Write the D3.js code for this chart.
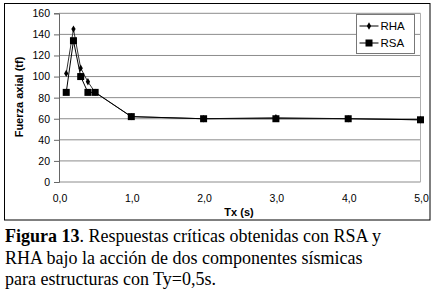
<!DOCTYPE html>
<html>
<head>
<meta charset="utf-8">
<script src="https://cdn.jsdelivr.net/npm/d3@7"></script>
<style>
  body { margin: 0; background: #fff; }
  svg { display: block; }
</style>
</head>
<body>
<div id="chart"></div>
<script>
// values
const periods = [0.1, 0.2, 0.3, 0.4, 0.5, 1.0, 2.0, 3.0, 4.0, 5.0]
const rhaValues = [103, 145, 108, 95, 85, 62, 60, 61, 60, 59]
const rsaValues = [85, 134, 100, 85, 85, 62, 60, 60, 60, 59]
const xTicks = [0, 1, 2, 3, 4, 5]
const yTicks = [0, 20, 40, 60, 80, 100, 120, 140, 160]
const seriesNames = ['RHA', 'RSA']
const captionLines = [
  [{ t: 'Figura 13', b: true }, { t: '. Respuestas críticas obtenidas con RSA y' }],
  [{ t: 'RHA bajo la acción de dos componentes sísmicas' }],
  [{ t: 'para estructuras con Ty=0,5s.' }],
]

const W = 434, H = 296
const plot = { left: 59, right: 420.5, top: 13.3, bottom: 182 }

const svg = d3.select('#chart').append('svg')
  .attr('width', W).attr('height', H)

// outer frame of the chart
svg.append('rect')
  .attr('x', 4.5).attr('y', 3.5)
  .attr('width', 425.5).attr('height', 216.5)
  .attr('fill', 'none').attr('stroke', '#000').attr('stroke-width', 1)

const x = d3.scaleLinear().domain([0, 5]).range([plot.left, plot.right])
const y = d3.scaleLinear().domain([0, 160]).range([plot.bottom, plot.top])

// horizontal gridlines
svg.append('g')
  .selectAll('line')
  .data(yTicks)
  .join('line')
  .attr('x1', plot.left).attr('x2', plot.right)
  .attr('y1', (d) => y(d)).attr('y2', (d) => y(d))
  .attr('stroke', '#8c8c8c').attr('stroke-width', 1)

// right edge of plot area
svg.append('line')
  .attr('x1', plot.right).attr('x2', plot.right)
  .attr('y1', y(160)).attr('y2', y(0))
  .attr('stroke', '#b0b0b0').attr('stroke-width', 1)

// y axis
const yAxis = svg.append('g')
  .attr('transform', `translate(${plot.left},0)`)
  .call(d3.axisLeft(y).tickValues(yTicks).tickSize(5).tickPadding(4))
yAxis.select('.domain').attr('stroke', '#666')
yAxis.selectAll('.tick line').attr('stroke', '#666')
yAxis.selectAll('text')
  .attr('font-family', 'Liberation Sans, Arial, sans-serif')
  .attr('font-size', 10.5).attr('fill', '#000')

// x axis labels only (no tick marks in the original)
const fmt = (d) => d.toFixed(1).replace('.', ',')
svg.append('g')
  .selectAll('text')
  .data(xTicks)
  .join('text')
  .attr('x', (d) => x(d) + 1)
  .attr('y', 202)
  .attr('text-anchor', 'middle')
  .attr('font-family', 'Liberation Sans, Arial, sans-serif')
  .attr('font-size', 10.5)
  .text(fmt)

// axis titles
svg.append('text')
  .attr('x', 239).attr('y', 216)
  .attr('text-anchor', 'middle')
  .attr('font-family', 'Liberation Sans, Arial, sans-serif')
  .attr('font-size', 11).attr('font-weight', 'bold')
  .text('Tx (s)')

svg.append('text')
  .attr('transform', `translate(23,97) rotate(-90)`)
  .attr('text-anchor', 'middle')
  .attr('font-family', 'Liberation Sans, Arial, sans-serif')
  .attr('font-size', 11).attr('font-weight', 'bold')
  .text('Fuerza axial (tf)')

const line = d3.line()
  .x((d) => x(d[0]))
  .y((d) => y(d[1]))

const rha = periods.map((p, i) => [p, rhaValues[i]])
const rsa = periods.map((p, i) => [p, rsaValues[i]])

const diamond = d3.symbol().type(d3.symbolDiamond).size(16)

function drawRSA(g, pts) {
  g.append('path').datum(pts).attr('d', line)
    .attr('fill', 'none').attr('stroke', '#000').attr('stroke-width', 1)
  g.selectAll('rect.m').data(pts).join('rect')
    .attr('class', 'm')
    .attr('x', (d) => x(d[0]) - 3.5).attr('y', (d) => y(d[1]) - 3.5)
    .attr('width', 7).attr('height', 7)
    .attr('fill', '#000')
}

function drawRHA(g, pts) {
  g.append('path').datum(pts).attr('d', line)
    .attr('fill', 'none').attr('stroke', '#333').attr('stroke-width', 1)
  g.selectAll('path.m').data(pts).join('path')
    .attr('class', 'm')
    .attr('transform', (d) => `translate(${x(d[0])},${y(d[1])})`)
    .attr('d', diamond)
    .attr('fill', '#000')
}

drawRHA(svg.append('g'), rha)
drawRSA(svg.append('g'), rsa)

// legend
const lg = svg.append('g').attr('transform', 'translate(356.5,14.5)')
lg.append('rect')
  .attr('width', 58).attr('height', 39)
  .attr('fill', '#fff').attr('stroke', '#777').attr('stroke-width', 1)
seriesNames.forEach((name, i) => {
  const cy = 11.5 + i * 17
  lg.append('line')
    .attr('x1', 3).attr('x2', 22).attr('y1', cy).attr('y2', cy)
    .attr('stroke', '#000').attr('stroke-width', 1)
  if (name === 'RHA') {
    lg.append('path').attr('transform', `translate(12.5,${cy})`)
      .attr('d', diamond).attr('fill', '#000')
  } else {
    lg.append('rect').attr('x', 9).attr('y', cy - 3.5)
      .attr('width', 7).attr('height', 7).attr('fill', '#000')
  }
  lg.append('text')
    .attr('x', 24).attr('y', cy + 4)
    .attr('font-family', 'Liberation Sans, Arial, sans-serif')
    .attr('font-size', 11.5)
    .text(name)
})

// caption below the chart
captionLines.forEach((parts, i) => {
  const t = svg.append('text')
    .attr('x', 5).attr('y', 242 + i * 21.5)
    .attr('font-family', 'Liberation Serif, Times New Roman, serif')
    .attr('font-size', 18)
  parts.forEach((p) => {
    t.append('tspan').attr('font-weight', p.b ? 'bold' : 'normal').text(p.t)
  })
})
</script>
</body>
</html>
